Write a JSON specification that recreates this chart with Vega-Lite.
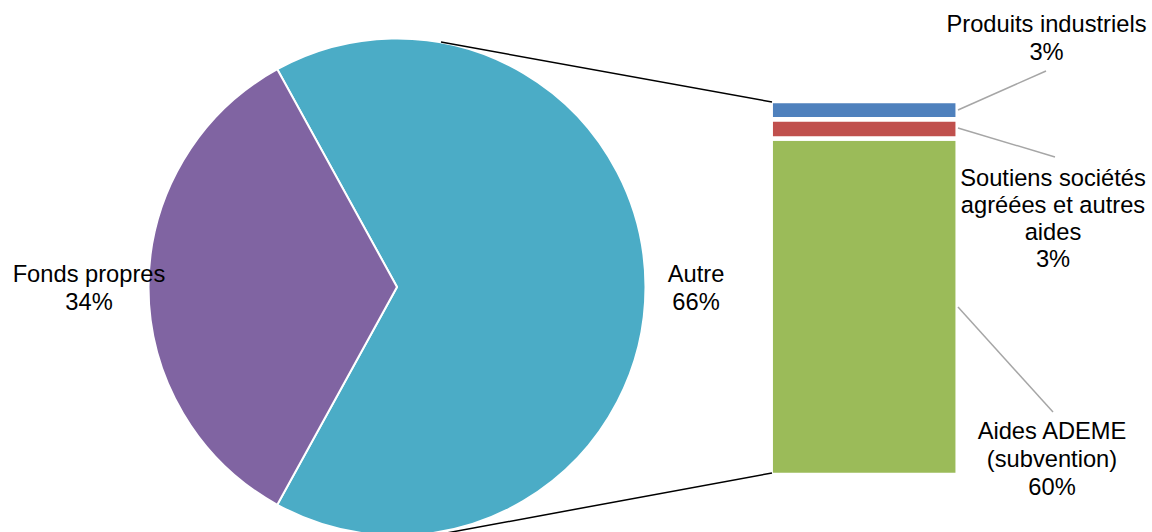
{
  "$schema": "https://vega.github.io/schema/vega-lite/v6.json",
  "width": 1152,
  "height": 532,
  "padding": 0,
  "autosize": {"type": "none"},
  "background": "white",
  "config": {"view": {"stroke": null}, "text": {"font": "Liberation Sans", "fontSize": 23.7, "lineHeight": 28, "fill": "#000000", "align": "center", "baseline": "alphabetic"}},
  "datasets": {
    "pie": [
      {"label": "Autre", "value": 66, "rank": 1},
      {"label": "Fonds propres", "value": 34, "rank": 2}
    ],
    "bar": [
      {"label": "Aides ADEME (subvention)", "value": 59.4, "rank": 1},
      {"label": "Soutiens sociétés agréées et autres aides", "value": 3.4, "rank": 2},
      {"label": "Produits industriels", "value": 3.2, "rank": 3}
    ],
    "one": [{}]
  },
  "resolve": {"scale": {"y": "independent"}},
  "layer": [
    {
      "data": {"name": "pie"},
      "mark": {"type": "arc", "radius": 248.5, "stroke": "white", "strokeWidth": 2},
      "encoding": {
        "theta": {"field": "value", "type": "quantitative", "stack": true, "scale": {"domain": [0, 100], "range": [-0.50265, 5.78054]}},
        "order": {"field": "rank", "type": "quantitative"},
        "color": {"field": "label", "type": "nominal", "legend": null, "scale": {"domain": ["Autre", "Fonds propres", "Aides ADEME (subvention)", "Soutiens sociétés agréées et autres aides", "Produits industriels"], "range": ["#4BACC6", "#8064A2", "#9BBB59", "#C0504D", "#4F81BD"]}},
        "x": {"datum": 397, "type": "quantitative", "axis": null, "scale": {"domain": [0, 1152], "nice": false, "zero": false}},
        "y": {"datum": 287, "type": "quantitative", "axis": null, "scale": {"domain": [532, 0], "nice": false, "zero": false}}
      }
    },
    {
      "data": {"name": "bar"},
      "transform": [
        {"stack": "value", "groupby": [], "sort": [{"field": "rank", "order": "ascending"}], "as": ["v0", "v1"]}
      ],
      "mark": {"type": "bar", "stroke": "white", "strokeWidth": 4.5},
      "encoding": {
        "x": {"datum": 770.7, "type": "quantitative", "axis": null, "scale": {"domain": [0, 1152], "nice": false, "zero": false}},
        "x2": {"datum": 957.7},
        "y": {"field": "v0", "type": "quantitative", "axis": null, "scale": {"domain": [-10.059, 83.823], "nice": false, "zero": false}},
        "y2": {"field": "v1"},
        "color": {"field": "label", "type": "nominal", "legend": null}
      }
    },
    {
      "data": {"name": "one"},
      "mark": {"type": "rule", "color": "#000000", "strokeWidth": 1.5},
      "encoding": {
        "x": {"datum": 441, "type": "quantitative", "axis": null, "scale": {"domain": [0, 1152], "nice": false, "zero": false}},
        "y": {"datum": 42, "type": "quantitative", "axis": null, "scale": {"domain": [532, 0], "nice": false, "zero": false}},
        "x2": {"datum": 772},
        "y2": {"datum": 102}
      }
    },
    {
      "data": {"name": "one"},
      "mark": {"type": "rule", "color": "#000000", "strokeWidth": 1.5},
      "encoding": {
        "x": {"datum": 441, "type": "quantitative", "axis": null, "scale": {"domain": [0, 1152], "nice": false, "zero": false}},
        "y": {"datum": 534, "type": "quantitative", "axis": null, "scale": {"domain": [532, 0], "nice": false, "zero": false}},
        "x2": {"datum": 772},
        "y2": {"datum": 473}
      }
    },
    {
      "data": {"name": "one"},
      "mark": {"type": "rule", "color": "#A6A6A6", "strokeWidth": 1.5},
      "encoding": {
        "x": {"datum": 958, "type": "quantitative", "axis": null, "scale": {"domain": [0, 1152], "nice": false, "zero": false}},
        "y": {"datum": 110, "type": "quantitative", "axis": null, "scale": {"domain": [532, 0], "nice": false, "zero": false}},
        "x2": {"datum": 1046},
        "y2": {"datum": 71}
      }
    },
    {
      "data": {"name": "one"},
      "mark": {"type": "rule", "color": "#A6A6A6", "strokeWidth": 1.5},
      "encoding": {
        "x": {"datum": 958, "type": "quantitative", "axis": null, "scale": {"domain": [0, 1152], "nice": false, "zero": false}},
        "y": {"datum": 128, "type": "quantitative", "axis": null, "scale": {"domain": [532, 0], "nice": false, "zero": false}},
        "x2": {"datum": 1055},
        "y2": {"datum": 157}
      }
    },
    {
      "data": {"name": "one"},
      "mark": {"type": "rule", "color": "#A6A6A6", "strokeWidth": 1.5},
      "encoding": {
        "x": {"datum": 958, "type": "quantitative", "axis": null, "scale": {"domain": [0, 1152], "nice": false, "zero": false}},
        "y": {"datum": 307, "type": "quantitative", "axis": null, "scale": {"domain": [532, 0], "nice": false, "zero": false}},
        "x2": {"datum": 1053},
        "y2": {"datum": 412}
      }
    },
    {
      "data": {"name": "one"},
      "mark": {"type": "text", "text": ["Produits industriels", "3%"]},
      "encoding": {
        "x": {"datum": 1046.5, "type": "quantitative", "axis": null, "scale": {"domain": [0, 1152], "nice": false, "zero": false}},
        "y": {"datum": 32, "type": "quantitative", "axis": null, "scale": {"domain": [532, 0], "nice": false, "zero": false}}
      }
    },
    {
      "data": {"name": "one"},
      "mark": {"type": "text", "text": ["Soutiens sociétés", "agréées et autres", "aides", "3%"], "lineHeight": 27},
      "encoding": {
        "x": {"datum": 1053, "type": "quantitative", "axis": null, "scale": {"domain": [0, 1152], "nice": false, "zero": false}},
        "y": {"datum": 186, "type": "quantitative", "axis": null, "scale": {"domain": [532, 0], "nice": false, "zero": false}}
      }
    },
    {
      "data": {"name": "one"},
      "mark": {"type": "text", "text": ["Aides ADEME", "(subvention)", "60%"]},
      "encoding": {
        "x": {"datum": 1052, "type": "quantitative", "axis": null, "scale": {"domain": [0, 1152], "nice": false, "zero": false}},
        "y": {"datum": 439, "type": "quantitative", "axis": null, "scale": {"domain": [532, 0], "nice": false, "zero": false}}
      }
    },
    {
      "data": {"name": "one"},
      "mark": {"type": "text", "text": ["Fonds propres", "34%"]},
      "encoding": {
        "x": {"datum": 89, "type": "quantitative", "axis": null, "scale": {"domain": [0, 1152], "nice": false, "zero": false}},
        "y": {"datum": 281.5, "type": "quantitative", "axis": null, "scale": {"domain": [532, 0], "nice": false, "zero": false}}
      }
    },
    {
      "data": {"name": "one"},
      "mark": {"type": "text", "text": ["Autre", "66%"]},
      "encoding": {
        "x": {"datum": 696, "type": "quantitative", "axis": null, "scale": {"domain": [0, 1152], "nice": false, "zero": false}},
        "y": {"datum": 281.5, "type": "quantitative", "axis": null, "scale": {"domain": [532, 0], "nice": false, "zero": false}}
      }
    }
  ]
}
